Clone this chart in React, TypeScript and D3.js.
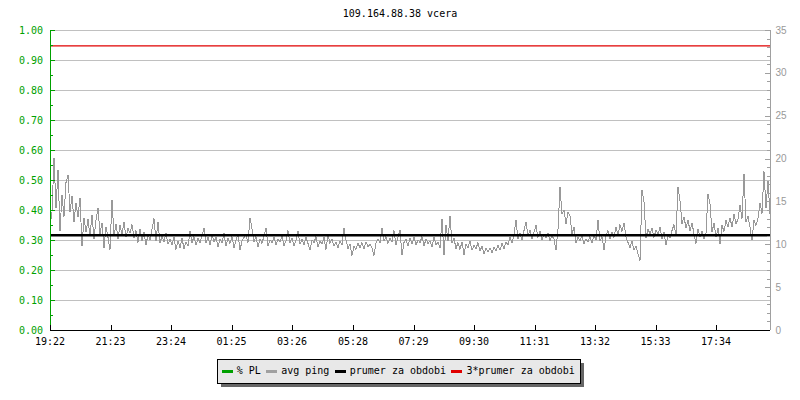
import React from "react";
import * as d3 from "d3";

const title = "109.164.88.38 vcera";
const startTime = "19:22";
const sampleMinutes = 4;
const xTickLabels = ["19:22", "21:23", "23:24", "01:25", "03:26", "05:28", "07:29", "09:30", "11:31", "13:32", "15:33", "17:34"];
const leftTicks = [0, 0.1, 0.2, 0.3, 0.4, 0.5, 0.6, 0.7, 0.8, 0.9, 1.0];
const rightTicks = [0, 5, 10, 15, 20, 25, 30, 35];
const pingMean = 11.05;
const legendItems = [
  { label: "% PL", color: "#00a000" },
  { label: "avg ping", color: "#a0a0a0" },
  { label: "prumer za obdobi", color: "#000000" },
  { label: "3*prumer za obdobi", color: "#e00000" },
];

// avg ping (ms), one sample every 4 minutes starting 19:22
const avgPing = [
  12.0, 13.8, 20.1, 14.2, 18.7, 11.5, 15.8, 13.2, 17.2, 18.1, 13.8, 15.6, 12.6, 14.8, 13.2, 15.4, 9.8, 13.1, 11.4, 12.9,
  11.0, 13.4, 10.6, 12.8, 14.2, 11.2, 12.5, 9.6, 12.0, 10.8, 9.4, 15.2, 11.0, 12.4, 10.6, 12.2, 11.1, 12.6, 10.8, 11.9,
  11.3, 12.3, 10.7, 11.6, 10.2, 11.8, 10.4, 11.4, 9.9, 11.2, 10.5, 11.8, 13.0, 10.4, 12.6, 10.1, 11.0, 10.3, 11.3, 10.0,
  10.6, 9.9, 10.8, 9.4, 10.4, 9.6, 10.7, 9.5, 10.3, 9.8, 11.5, 10.2, 10.9, 9.9, 10.7, 10.2, 11.0, 11.9, 10.1, 10.8,
  9.9, 11.1, 10.3, 10.8, 9.7, 10.6, 10.2, 11.3, 9.8, 10.7, 10.1, 10.9, 9.6, 10.5, 11.2, 9.3, 10.4, 10.8, 11.1, 10.2,
  13.1, 11.8, 10.3, 10.9, 9.7, 10.6, 10.1, 11.0, 11.9, 9.8, 10.5, 10.2, 10.8, 9.9, 10.6, 10.3, 11.0, 9.8, 10.4, 11.6,
  10.2, 10.7, 9.8, 10.5, 11.5, 10.0, 10.6, 9.9, 10.8, 10.1, 9.3, 10.5, 10.2, 10.9, 9.7, 10.4, 10.0, 10.8, 9.4, 11.2,
  10.1, 10.6, 9.8, 10.3, 9.6, 10.4, 9.9, 11.9, 10.5, 9.5, 10.0, 8.7, 9.8, 9.4, 10.1, 9.6, 10.2, 9.5, 10.3, 9.7,
  10.0, 9.6, 8.7, 10.1, 10.6, 10.2, 11.9, 10.4, 10.9, 10.1, 10.7, 10.3, 11.6, 9.9, 10.8, 11.7, 8.7, 10.2, 10.6, 9.8,
  10.7, 10.0, 10.8, 9.9, 10.5, 10.2, 10.9, 9.8, 10.6, 10.1, 10.4, 9.7, 10.8, 9.9, 10.3, 9.6, 13.0, 8.7, 12.2, 10.4,
  13.3, 10.1, 10.7, 9.5, 10.2, 9.4, 10.3, 8.8, 10.0, 9.6, 10.4, 9.3, 9.9, 9.5, 10.2, 9.2, 9.8, 8.9, 9.5, 9.1,
  9.6, 9.0, 9.7, 9.2, 9.9, 9.3, 10.1, 9.5, 10.3, 9.9, 10.8, 10.2, 11.1, 12.8, 10.6, 11.3, 10.5, 11.6, 12.6, 11.0,
  11.7, 10.6, 11.4, 12.2, 10.8, 11.5, 10.5, 11.2, 10.7, 11.3, 10.4, 11.0, 10.6, 9.3, 11.8, 16.7, 13.5, 14.0, 12.4, 13.8,
  13.3, 11.2, 12.0, 10.2, 10.8, 10.4, 11.0, 10.1, 10.6, 10.3, 10.9, 10.2, 11.1, 10.5, 12.8, 10.4, 10.9, 9.3, 11.0, 11.6,
  10.6, 11.4, 10.8, 12.0, 11.1, 12.3, 11.5, 12.5, 10.9, 10.2, 9.6, 10.4, 9.3, 9.8, 8.9, 8.1, 16.3, 15.0, 10.7, 11.8,
  11.2, 11.9, 10.8, 11.7, 11.1, 12.0, 10.6, 11.4, 9.9, 11.1, 10.7, 11.6, 12.3, 11.0, 16.7, 15.1, 12.4, 13.2, 11.9, 12.8,
  11.6, 12.5, 11.2, 10.1, 11.8, 10.9, 11.5, 10.6, 11.3, 15.9, 14.7, 11.4, 12.5, 10.8, 11.9, 10.0, 12.2, 11.5, 12.8, 12.0,
  13.1, 12.0, 13.5, 12.4, 12.9, 14.6, 13.0, 18.2, 12.6, 13.3, 12.0, 10.5, 12.8, 12.2, 13.0, 14.8, 13.6, 18.5, 14.2, 17.4,
  13.5,
];

const MONO = "'DejaVu Sans Mono', monospace";
const GREEN = "#00a000";
const GRID = "#c0c0c0";
const RGREY = "#a0a0a0";

function toMinutes(hm: string) {
  const [h, m] = hm.split(":").map(Number);
  return h * 60 + m;
}

export default function App() {
  const left = 50, right = 770, top = 30, bottom = 330;
  const startMin = toMinutes(startTime);
  const x = d3.scaleLinear().domain([0, 1440]).range([left, right]);
  const yL = d3.scaleLinear().domain([0, 1]).range([bottom, top]);
  const yR = d3.scaleLinear().domain([0, 35]).range([bottom, top]);

  const pts: [number, number][] = avgPing.map((v, i) => [i * sampleMinutes, v]);
  const line = d3
    .line<[number, number]>()
    .x((d) => x(d[0]))
    .y((d) => yR(d[1]));

  const xTicks = xTickLabels.map((lab) => {
    let off = toMinutes(lab) - startMin;
    if (off < 0) off += 1440;
    return { lab, off };
  });

  const leftMinor = d3.range(0, 1.0001, 0.05);
  const rightMinor = d3.range(0, 36, 1);
  const fmt = d3.format(".2f");

  // legend layout
  const charW = 6.02;
  let lx = 221.7;
  const legend = legendItems.map((it) => {
    const sx = lx;
    const tx = sx + 15;
    lx = tx + it.label.length * charW + 5.4;
    return { ...it, sx, tx };
  });

  return (
    <svg
      width={800}
      height={400}
      style={{ position: "absolute", left: 0, top: 0, background: "#fff" }}
    >
      <rect x={0} y={0} width={800} height={400} fill="#fff" />
      <text x={400} y={16.5} textAnchor="middle" fontFamily={MONO} fontSize={10} fill="#000">
        {title}
      </text>

      {/* gridlines */}
      <g shapeRendering="crispEdges">
        {leftTicks.filter((t) => t > 0).map((t) => (
          <line key={t} x1={left} x2={right} y1={Math.round(yL(t)) + 0.5} y2={Math.round(yL(t)) + 0.5} stroke={GRID} />
        ))}
      </g>

      {/* avg ping */}
      <path d={line(pts) || ""} fill="none" stroke="#999999" strokeWidth={1} shapeRendering="crispEdges" />

      {/* 3 * mean */}
      <line x1={left} x2={right} y1={yR(3 * pingMean)} y2={yR(3 * pingMean)} stroke="#e00000" strokeWidth={1.2} />
      {/* mean */}
      <line x1={left} x2={right} y1={yR(pingMean)} y2={yR(pingMean)} stroke="#000" strokeWidth={2.6} />

      {/* left axis */}
      <g shapeRendering="crispEdges">
        <line x1={left + 0.5} x2={left + 0.5} y1={top} y2={bottom} stroke={GREEN} />
        {leftMinor.map((t, i) => (
          <line key={i} x1={left} x2={left + (i % 2 === 0 ? 5 : 3)} y1={Math.round(yL(t)) + 0.5} y2={Math.round(yL(t)) + 0.5} stroke={GREEN} />
        ))}
      </g>
      {leftTicks.map((t) => (
        <text key={t} x={43} y={yL(t) + 3.6} textAnchor="end" fontFamily={MONO} fontSize={10} fill={GREEN}>
          {fmt(t)}
        </text>
      ))}

      {/* right axis */}
      <g shapeRendering="crispEdges">
        <line x1={right + 0.5} x2={right + 0.5} y1={top} y2={bottom} stroke={RGREY} />
        {rightMinor.map((t) => (
          <line key={t} x1={right - (t % 5 === 0 ? 5 : 3)} x2={right} y1={Math.round(yR(t)) + 0.5} y2={Math.round(yR(t)) + 0.5} stroke={RGREY} />
        ))}
      </g>
      {rightTicks.map((t) => (
        <text key={t} x={775.5} y={yR(t) + 3.6} fontFamily="'Liberation Sans', Arial, sans-serif" fontSize={10} fill="#999">
          {t}
        </text>
      ))}

      {/* bottom axis */}
      <g shapeRendering="crispEdges">
        <line x1={left} x2={right} y1={bottom + 0.5} y2={bottom + 0.5} stroke="#000" />
        {xTicks.map((t) => (
          <line key={t.lab} x1={Math.round(x(t.off)) + 0.5} x2={Math.round(x(t.off)) + 0.5} y1={bottom - 5} y2={bottom} stroke="#000" />
        ))}
      </g>
      {xTicks.map((t) => (
        <text key={t.lab} x={x(t.off)} y={344.5} textAnchor="middle" fontFamily={MONO} fontSize={10} fill="#000">
          {t.lab}
        </text>
      ))}

      {/* legend */}
      <g shapeRendering="crispEdges">
        <rect x={221} y={363} width={363} height={24} fill="#666" />
        <rect x={217.5} y={359.5} width={363} height={24} fill="#e8e8e8" stroke="#000" />
      </g>
      {legend.map((it) => (
        <g key={it.label}>
          <line x1={it.sx} x2={it.sx + 11} y1={371} y2={371} stroke={it.color} strokeWidth={3} shapeRendering="crispEdges" />
          <text x={it.tx} y={374.3} fontFamily={MONO} fontSize={10} fill="#000">
            {it.label}
          </text>
        </g>
      ))}
    </svg>
  );
}
